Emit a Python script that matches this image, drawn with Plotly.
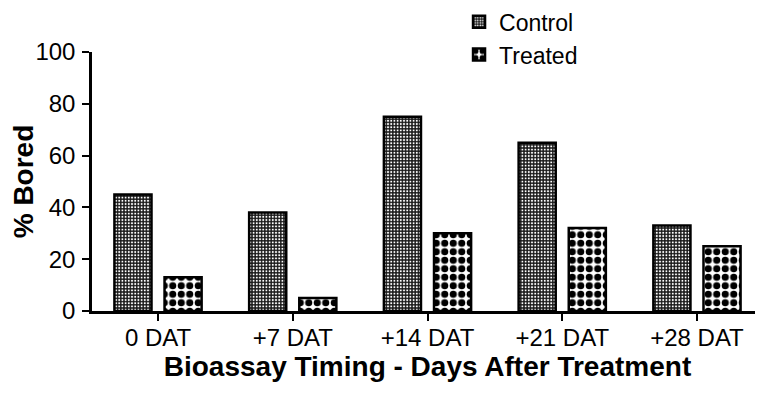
import plotly.graph_objects as go

categories = ["0 DAT", "+7 DAT", "+14 DAT", "+21 DAT", "+28 DAT"]
control = [45, 38, 75, 65, 33]
treated = [13, 5, 30, 32, 25]
y_ticks = [0, 20, 40, 60, 80, 100]

FONT = "Liberation Sans, Arial, sans-serif"

fig = go.Figure()
fig.add_trace(go.Bar(
    name="Control", x=categories, y=control,
    marker=dict(color="white", line=dict(color="black", width=2.5),
                pattern=dict(shape=".", size=3.2, solidity=0.3,
                             fgcolor="white", bgcolor="#1a1a1a", fillmode="replace")),
))
fig.add_trace(go.Bar(
    name="Treated", x=categories, y=treated,
    marker=dict(color="white", line=dict(color="black", width=2.5),
                pattern=dict(shape=".", size=8.5, solidity=0.55,
                             fgcolor="black", bgcolor="white", fillmode="replace")),
))

fig.update_layout(
    width=763, height=394,
    margin=dict(l=84, r=8, t=44, b=91, autoexpand=False),
    paper_bgcolor="white", plot_bgcolor="white",
    barmode="group", bargap=0.256, bargroupgap=0.26,
    font=dict(family=FONT, size=24, color="black"),
    showlegend=True,
    legend=dict(x=0.547, y=1.2, xanchor="left", yanchor="top",
                font=dict(size=23), bgcolor="rgba(0,0,0,0)",
                tracegroupgap=0, itemwidth=30),
)
fig.update_xaxes(
    type="category", range=[-0.49, 4.49], automargin=False,
    showline=True, linecolor="black", linewidth=2.5,
    ticks="outside", ticklen=7, tickwidth=2, tickcolor="black",
    ticklabelstandoff=-4,
    showgrid=False, zeroline=False,
    tickfont=dict(size=24),
    title=dict(text="<b>Bioassay Timing - Days After Treatment</b>",
               font=dict(size=28), standoff=3),
)
fig.update_yaxes(
    range=[0, 100], tickvals=y_ticks, automargin=False,
    showline=True, linecolor="black", linewidth=2.5,
    ticks="outside", ticklen=7, tickwidth=2, tickcolor="black",
    ticklabelstandoff=2,
    showgrid=False, zeroline=False,
    tickfont=dict(size=24),
    title=dict(text="<b>% Bored</b>", font=dict(size=28), standoff=15),
)

fig.write_html("out.html")
